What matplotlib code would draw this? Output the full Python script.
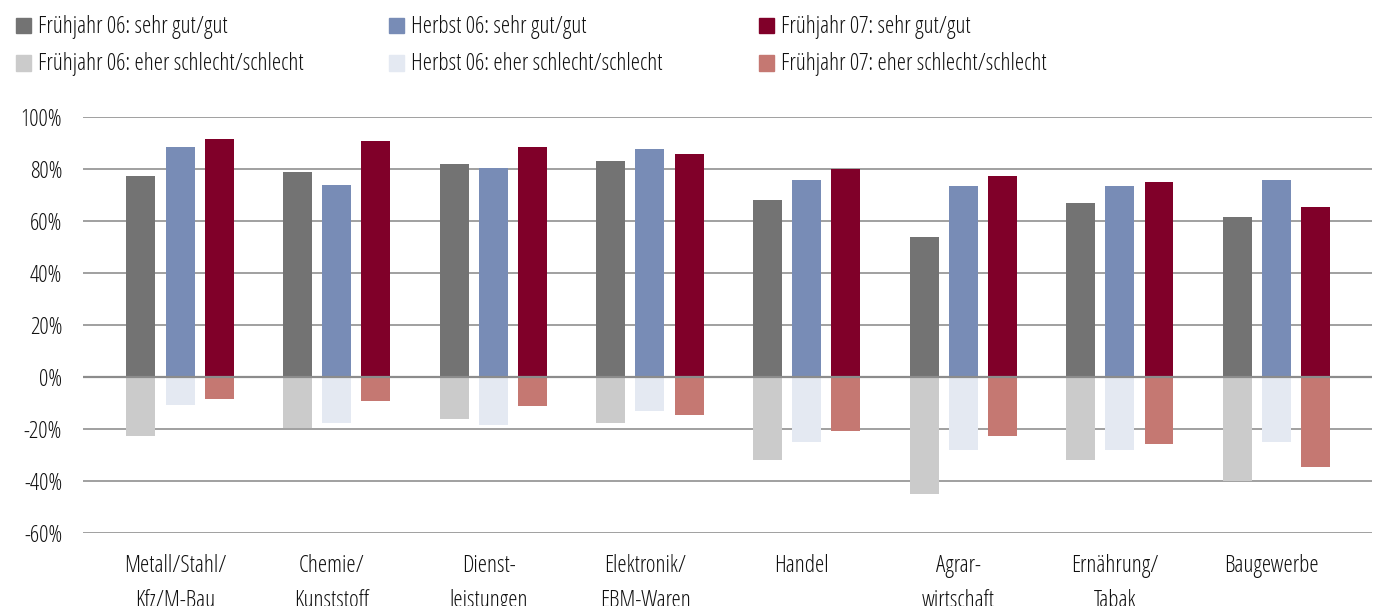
import matplotlib
matplotlib.use("Agg")
import matplotlib.pyplot as plt
from matplotlib.patches import Rectangle
from matplotlib import font_manager as fm
import numpy as np

categories = ["Metall/Stahl/\nKfz/M-Bau", "Chemie/\nKunststoff", "Dienst-\nleistungen",
              "Elektronik/\nEBM-Waren", "Handel", "Agrar-\nwirtschaft", "Ernährung/\nTabak", "Baugewerbe"]

f06_gut = [77.5, 79, 82, 83, 68, 54, 67, 61.5]
h06_gut = [88.5, 74, 80.5, 88, 76, 73.5, 73.5, 76]
f07_gut = [91.5, 91, 88.5, 86, 80, 77.5, 75, 65.5]
f06_schlecht = [-22.5, -19.5, -16, -17.5, -32, -45, -32, -40]
h06_schlecht = [-10.5, -17.5, -18.5, -13, -25, -28, -28, -25]
f07_schlecht = [-8.5, -9, -11, -14.5, -20.5, -22.5, -25.5, -34.5]

series_labels = ["Frühjahr 06: sehr gut/gut", "Herbst 06: sehr gut/gut", "Frühjahr 07: sehr gut/gut",
                 "Frühjahr 06: eher schlecht/schlecht", "Herbst 06: eher schlecht/schlecht",
                 "Frühjahr 07: eher schlecht/schlecht"]
yticks = [-60, -40, -20, 0, 20, 40, 60, 80, 100]

colors = ["#737373", "#788cb6", "#800029", "#cbcbcb", "#e4e9f2", "#c57872"]

W, H = 1380, 606
fig = plt.figure(figsize=(W / 100, H / 100), dpi=100)

# condensed font
FS = 16.8
cands = [f for f in fm.fontManager.ttflist
         if f.name == "Open Sans" and f.stretch == "condensed" and f.style == "normal"]
if cands:
    cands.sort(key=lambda f: abs(int(f.weight) - 420) if str(f.weight).isdigit() else 999)
    fp = fm.FontProperties(fname=cands[0].fname, size=FS)
else:
    fp = fm.FontProperties(family=["Open Sans", "DejaVu Sans"], size=FS - 2.5)

TXT = "#111111"
ax = fig.add_axes([83 / W, (H - 533.3) / H, (1372 - 83) / W, (533.3 - 117.3) / H])

x = np.arange(len(categories))
bw = 0.185
off = 0.25
ax.bar(x - off, f06_gut, bw, color=colors[0], zorder=3)
ax.bar(x, h06_gut, bw, color=colors[1], zorder=3)
ax.bar(x + off, f07_gut, bw, color=colors[2], zorder=3)
ax.bar(x - off, f06_schlecht, bw, color=colors[3], zorder=3)
ax.bar(x, h06_schlecht, bw, color=colors[4], zorder=3)
ax.bar(x + off, f07_schlecht, bw, color=colors[5], zorder=3)

ax.set_xlim(-0.62, 7.61)
ax.set_ylim(-60, 100)
ax.set_yticks(yticks)
ax.set_yticklabels([f"{v}%" for v in yticks], fontproperties=fp, color=TXT)
ax.set_xticks(x - 0.03)
ax.set_xticklabels(categories, fontproperties=fp, color=TXT, linespacing=1.62)
ax.tick_params(axis='both', length=0)
ax.tick_params(axis='y', pad=15)
ax.tick_params(axis='x', pad=15)
for s in ax.spines.values():
    s.set_visible(False)
ax.grid(axis='y', color="#a0a0a0", linewidth=1.4, zorder=0)
ax.axhline(0, color="#8c8c8c", linewidth=1.6, zorder=4)

# legend
sq_x = [16, 389, 759]
txt_x = [38, 411, 781]
row_top = [18, 55.5]
for i, lab in enumerate(series_labels):
    r, c = divmod(i, 3)
    fig.patches.append(Rectangle((sq_x[c] / W, 1 - (row_top[r] + 15) / H), 15 / W, 15 / H,
                                 transform=fig.transFigure, color=colors[i], figure=fig))
    fig.text(txt_x[c] / W, 1 - (row_top[r] + 15) / H, lab, fontproperties=fp,
             va='baseline', ha='left', color=TXT)

fig.savefig("out.png", dpi=100, facecolor="white")
